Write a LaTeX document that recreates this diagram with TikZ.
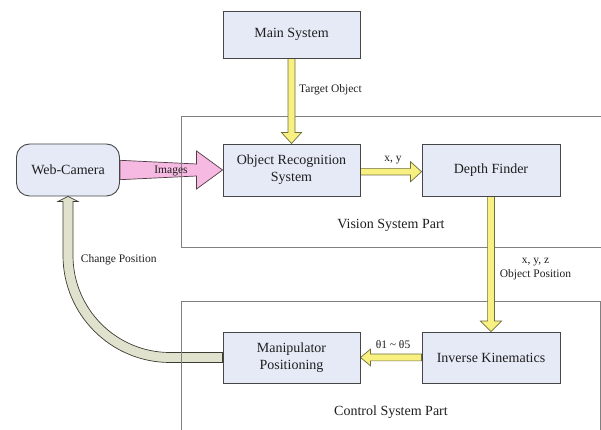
\documentclass[tikz,border=0pt]{standalone}
\usepackage{fontspec}
\setmainfont{Liberation Serif}
\usetikzlibrary{calc}
\definecolor{boxfill}{RGB}{230,234,246}
\definecolor{boxline}{RGB}{70,70,70}
\definecolor{yfill}{RGB}{248,240,128}
\definecolor{yline}{RGB}{110,110,60}
\definecolor{pfill}{RGB}{246,186,226}
\definecolor{pline}{RGB}{80,60,70}
\definecolor{gfill}{RGB}{224,226,206}
\definecolor{gline}{RGB}{60,60,50}
\definecolor{frameline}{RGB}{128,128,128}
\definecolor{txt}{RGB}{30,30,30}
\pgfdeclarelayer{lowarrows}
\pgfdeclarelayer{frames}
\pgfdeclarelayer{higharrows}
\pgfsetlayers{lowarrows,frames,higharrows,main}
\begin{document}
\begin{tikzpicture}[x=1pt,y=1pt,
  blk/.style={draw=boxline, fill=boxfill, line width=0.9pt, minimum width=137pt,
    minimum height=52pt, inner sep=0pt, align=center, text=txt,
    font=\fontsize{14}{17}\selectfont},
  frm/.style={draw=frameline, line width=1pt},
  lbl/.style={font=\fontsize{11.5}{14}\selectfont, inner sep=0pt, align=center, text=txt},
  part/.style={font=\fontsize{14}{17}\selectfont, inner sep=0pt, text=txt},
  yarr/.style={draw=yline, fill=yfill, line width=0.7pt, line join=miter},
  parr/.style={draw=pline, fill=pfill, line width=0.7pt, line join=miter},
  garr/.style={draw=gline, fill=gfill, line width=0.7pt, line join=miter}]
\useasboundingbox (0,0) rectangle (601,430);

% boxes
\node[blk, minimum height=47pt] (main) at (291.5,395.5) {Main System};
\node[blk] (obj) at (291.5,260) {Object Recognition\\System};
\node[blk, minimum width=138pt] (depth) at (491,260) {Depth Finder};
\node[blk, minimum width=103pt, rounded corners=13pt] (web) at (68,260) {Web-Camera};
\node[blk, minimum height=51pt] (manip) at (291.5,72.5) {Manipulator\\Positioning};
\node[blk, minimum width=138pt, minimum height=51pt] (ik) at (491,72.5) {Inverse Kinematics};

% pink and green arrows (beneath the frames)
\begin{pgfonlayer}{lowarrows}
\draw[parr] ($(web.east)+(0,9.7)$) -- ($(obj.west)+(-26,6)$) -- ($(obj.west)+(-26,19)$)
  -- (obj.west) -- ($(obj.west)+(-26,-19)$) -- ($(obj.west)+(-26,-6)$)
  -- ($(web.east)+(0,-9.7)$) -- cycle;
\coordinate (bc) at (170,174.5);
\draw[garr] ($(manip.west)+(0,5)$) -- ($(bc)+(0,-97)$) arc[start angle=270, end angle=180, radius=97]
  -- ($(web.south)+(5,-5)$) -- ($(web.south)+(10,-5)$) -- (web.south)
  -- ($(web.south)+(-10,-5)$) -- ($(web.south)+(-5,-5)$)
  -- ($(bc)+(-107,0)$) arc[start angle=180, end angle=270, radius=107]
  -- ($(manip.west)+(0,-5)$) -- cycle;
\end{pgfonlayer}

% frames
\begin{pgfonlayer}{frames}
\draw[frm] (603,313) -- (181,313) -- (181,182) -- (603,182);
\draw[frm] (181,-5) -- (181,128) -- (600,128) -- (600,-5);
\end{pgfonlayer}

% yellow arrows
\begin{pgfonlayer}{higharrows}
\draw[yarr] ($(main.south)+(-3.5,0)$) -- ($(obj.north)+(-3.5,11)$) -- ($(obj.north)+(-10,11)$)
  -- (obj.north) -- ($(obj.north)+(10,11)$) -- ($(obj.north)+(3.5,11)$)
  -- ($(main.south)+(3.5,0)$) -- cycle;
\draw[yarr] ($(depth.south)+(-3.4,0)$) -- ($(ik.north)+(-3.4,10.5)$) -- ($(ik.north)+(-10.5,10.5)$)
  -- (ik.north) -- ($(ik.north)+(10.5,10.5)$) -- ($(ik.north)+(3.4,10.5)$)
  -- ($(depth.south)+(3.4,0)$) -- cycle;
\draw[yarr] ($(obj.east)+(0,1.6)$) -- ($(depth.west)+(-11,1.6)$) -- ($(depth.west)+(-11,8.3)$)
  -- ($(depth.west)+(0,-1.7)$) -- ($(depth.west)+(-11,-11.7)$) -- ($(depth.west)+(-11,-5)$)
  -- ($(obj.east)+(0,-5)$) -- cycle;
\draw[yarr] ($(ik.west)+(0,3.4)$) -- ($(manip.east)+(10,3.4)$) -- ($(manip.east)+(10,8.3)$)
  -- (manip.east) -- ($(manip.east)+(10,-8.3)$) -- ($(manip.east)+(10,-3.4)$)
  -- ($(ik.west)+(0,-3.4)$) -- cycle;
\end{pgfonlayer}

% labels
\node[lbl, anchor=west] (lt) at (299,340.7) {Target Object};
\node[lbl] (lxy) at (393,270) {x, y};
\node[lbl] (limg) at (171,259.5) {Images};
\node[lbl] (lxyz) at (535.5,161.3) {x, y, z\\Object Position};
\node[lbl] (lth) at (393,85) {θ1 \textasciitilde{} θ5};
\node[lbl] (lcp) at (118.7,170.7) {Change Position};
\node[part] (lv) at (391,204.3) {Vision System Part};
\node[part] (lc) at (391,18.3) {Control System Part};
\end{tikzpicture}
\end{document}
